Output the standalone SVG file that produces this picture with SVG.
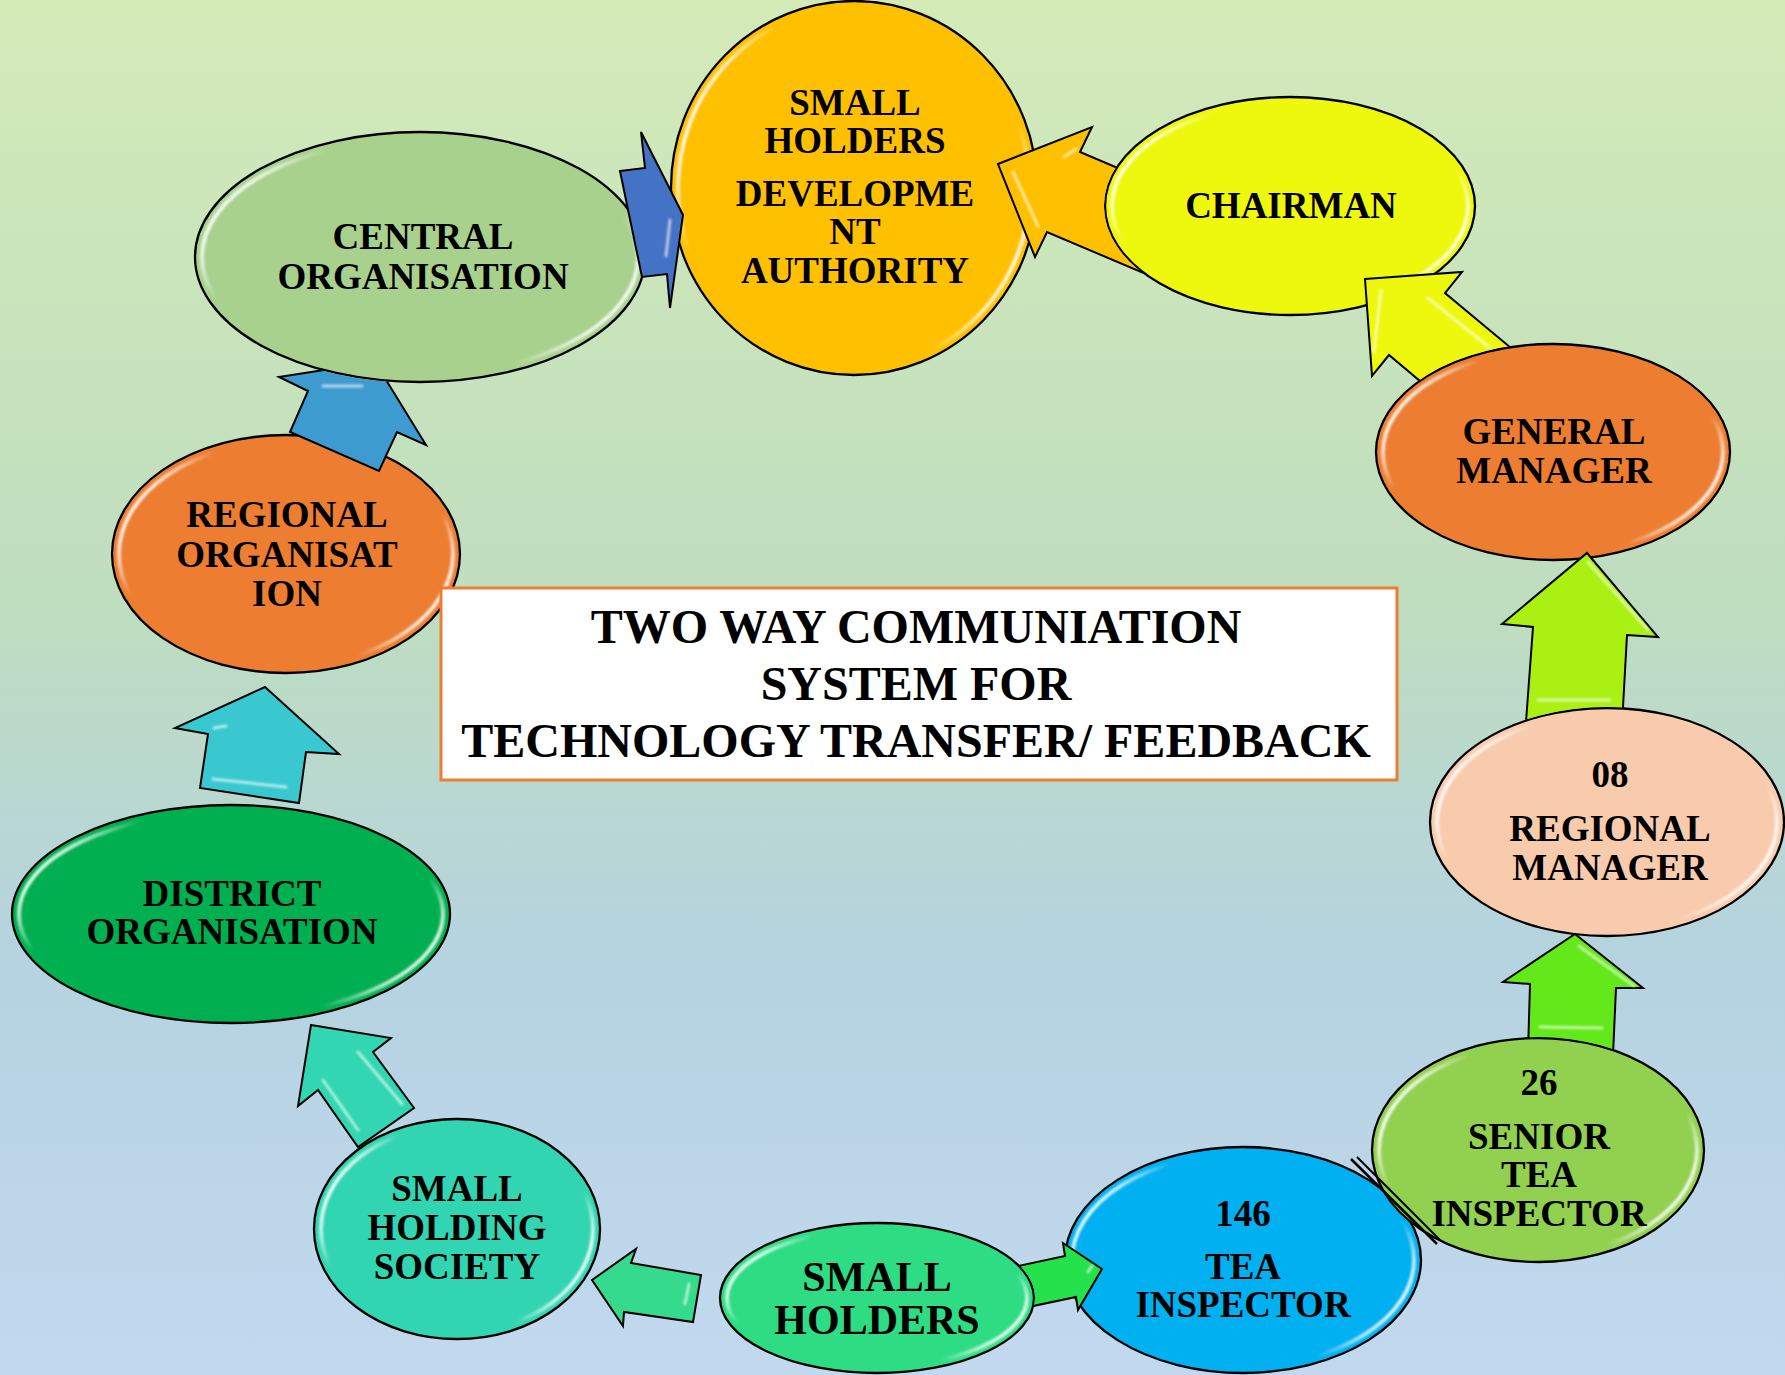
<svg xmlns="http://www.w3.org/2000/svg" width="1785" height="1375" viewBox="0 0 1785 1375">
<defs>
<linearGradient id="bg" x1="0" y1="0" x2="0" y2="1">
<stop offset="0" stop-color="#D4EBB8"/>
<stop offset="0.45" stop-color="#BEDDC0"/>
<stop offset="0.7" stop-color="#B5D3E0"/>
<stop offset="1" stop-color="#C2D8EF"/>
</linearGradient>
<linearGradient id="rim" x1="0" y1="0.3" x2="1" y2="0.7">
<stop offset="0" stop-color="#fff" stop-opacity="1"/>
<stop offset="0.07" stop-color="#fff" stop-opacity="0.7"/>
<stop offset="0.16" stop-color="#fff" stop-opacity="0"/>
<stop offset="0.84" stop-color="#fff" stop-opacity="0"/>
<stop offset="0.93" stop-color="#fff" stop-opacity="0.7"/>
<stop offset="1" stop-color="#fff" stop-opacity="1"/>
</linearGradient>
<filter id="soft" x="-5%" y="-5%" width="110%" height="110%">
<feGaussianBlur stdDeviation="0.8"/>
</filter>
<mask id="m1" maskUnits="userSpaceOnUse" x="0" y="0" width="1785" height="1375">
<rect x="0" y="0" width="1785" height="1375" fill="#fff"/>
<ellipse cx="1290" cy="206" rx="186" ry="110" fill="#000"/>
<ellipse cx="1607" cy="822" rx="178" ry="115" fill="#000"/>
<ellipse cx="877" cy="1298" rx="158" ry="76" fill="#000"/>
<ellipse cx="420" cy="257" rx="226" ry="126" fill="#000"/>
</mask>
<mask id="m2" maskUnits="userSpaceOnUse" x="0" y="0" width="1785" height="1375">
<rect x="0" y="0" width="1785" height="1375" fill="#fff"/>
<ellipse cx="1553" cy="452" rx="178" ry="109" fill="#000"/>
<ellipse cx="1538" cy="1150" rx="167" ry="113" fill="#000"/>
</mask>
</defs>
<style>
.node{stroke:#000;stroke-width:2.3}
.rim{fill:none;stroke:url(#rim);stroke-width:4;filter:url(#soft)}
.t{font-family:"Liberation Serif","Times New Roman",serif;font-weight:bold;font-size:37px;fill:#000;text-anchor:middle}
.big{font-size:42px}
.title{font-size:48px}
.arr{stroke:#000;stroke-width:2;stroke-linejoin:miter}
.hl{fill:none;stroke:#fff;stroke-opacity:0.6;stroke-width:3;stroke-linecap:round;filter:url(#soft)}
</style>
<rect x="0" y="0" width="1785" height="1375" fill="url(#bg)"/>

<g id="node-shda">
<ellipse class="node" cx="854" cy="188" rx="183" ry="187" fill="#FFC000"/>
<ellipse class="rim" cx="854" cy="188" rx="176" ry="180"/>
<text class="t" x="855" y="115">SMALL</text>
<text class="t" x="855" y="153">HOLDERS</text>
<text class="t" x="855" y="206">DEVELOPME</text>
<text class="t" x="855" y="244">NT</text>
<text class="t" x="855" y="283">AUTHORITY</text>
</g>
<g id="node-chairman">
<ellipse class="node" cx="1290" cy="206" rx="185" ry="109" fill="#EEF80C"/>
<ellipse class="rim" cx="1290" cy="206" rx="178" ry="102"/>
<text class="t" x="1291" y="218">CHAIRMAN</text>
</g>
<g id="node-central">
<ellipse class="node" cx="420" cy="257" rx="225" ry="125" fill="#A9D18E"/>
<ellipse class="rim" cx="420" cy="257" rx="218" ry="118"/>
<text class="t" x="423" y="249">CENTRAL</text>
<text class="t" x="423" y="289">ORGANISATION</text>
</g>
<g id="node-regional-org">
<ellipse class="node" cx="286" cy="554" rx="174" ry="119" fill="#ED7D31"/>
<ellipse class="rim" cx="286" cy="554" rx="167" ry="112"/>
<text class="t" x="287" y="527">REGIONAL</text>
<text class="t" x="287" y="567">ORGANISAT</text>
<text class="t" x="287" y="606">ION</text>
</g>
<g id="node-general-manager">
<ellipse class="node" cx="1553" cy="452" rx="177" ry="108" fill="#ED7D31"/>
<ellipse class="rim" cx="1553" cy="452" rx="170" ry="101"/>
<text class="t" x="1554" y="444">GENERAL</text>
<text class="t" x="1554" y="483">MANAGER</text>
</g>
<g id="node-regional-manager">
<ellipse class="node" cx="1607" cy="822" rx="177" ry="114" fill="#F8CBAD"/>
<ellipse class="rim" cx="1607" cy="822" rx="170" ry="107"/>
<text class="t" x="1610" y="787">08</text>
<text class="t" x="1610" y="841">REGIONAL</text>
<text class="t" x="1610" y="880">MANAGER</text>
</g>
<g id="node-district">
<ellipse class="node" cx="231" cy="914" rx="219" ry="109" fill="#00B050"/>
<ellipse class="rim" cx="231" cy="914" rx="212" ry="102"/>
<text class="t" x="232" y="906">DISTRICT</text>
<text class="t" x="232" y="944">ORGANISATION</text>
</g>
<g id="node-tea-inspector">
<ellipse class="node" cx="1243" cy="1260" rx="178" ry="113" fill="#00B0F0"/>
<ellipse class="rim" cx="1243" cy="1260" rx="171" ry="106"/>
<text class="t" x="1243" y="1226">146</text>
<text class="t" x="1243" y="1279">TEA</text>
<text class="t" x="1243" y="1317">INSPECTOR</text>
</g>
<g id="node-senior-tea-inspector">
<ellipse class="node" cx="1538" cy="1150" rx="166" ry="112" fill="#92D050"/>
<ellipse class="rim" cx="1538" cy="1150" rx="159" ry="105"/>
<text class="t" x="1539" y="1095">26</text>
<text class="t" x="1539" y="1149">SENIOR</text>
<text class="t" x="1539" y="1187">TEA</text>
<text class="t" x="1539" y="1226">INSPECTOR</text>
</g>
<g id="node-small-holding-society">
<ellipse class="node" cx="457" cy="1229" rx="143" ry="110" fill="#32D5B2"/>
<ellipse class="rim" cx="457" cy="1229" rx="136" ry="103"/>
<text class="t" x="457" y="1201">SMALL</text>
<text class="t" x="457" y="1240">HOLDING</text>
<text class="t" x="457" y="1279">SOCIETY</text>
</g>
<g id="node-small-holders">
<ellipse class="node" cx="877" cy="1298" rx="157" ry="75" fill="#2EDC84"/>
<ellipse class="rim" cx="877" cy="1298" rx="150" ry="68"/>
<text class="t big" x="877" y="1291">SMALL</text>
<text class="t big" x="877" y="1334">HOLDERS</text>
</g>

<g id="connectors">
<g mask="url(#m1)">
<polygon class="arr" fill="#FFC000" points="998,164 1092,127 1080,152 1200,203 1167,283 1047,232 1035,257"/>
<polygon class="arr" fill="#AAF012" points="1587,553 1658,637 1627,635 1622,725 1526,722 1533,627 1502,624"/>
<polygon class="arr" fill="#25E24C" points="1102,1269 1063,1243 1065,1256 948,1281 957,1322 1076,1297 1078,1310"/>
<polygon class="arr" fill="#3E9BD0" points="375,362 426,445 397,432 379,471 290,432 308,391 279,377"/>
<path class="hl" d="M1013 172 L1038 226 M1064 157 L1076 149 M1588 562 L1648 630 M1538 700 L1610 700 M1092 1266 L1088 1272 M323 386 L362 386"/>
</g>
<g mask="url(#m2)">
<polygon class="arr" fill="#EEF80C" points="1365,279 1462,272 1445,293 1553,383 1496,445 1389,355 1372,376"/>
<polygon class="arr" fill="#63E81A" points="1575,934 1643,988 1616,988 1613,1055 1528,1052 1530,984 1503,982"/>
<path class="hl" d="M1381 290 L1374 352 M1428 298 L1490 348 M1579 946 L1634 986 M1540 1027 L1602 1028"/>
</g>
<polygon class="arr" fill="#4472C4" points="620,171 645,168 641,132 683,215 670,308 667,274 642,277"/>
<polygon class="arr" fill="#35DA8C" points="592,1280 636,1249 631,1263 701,1275 693,1322 624,1312 623,1326"/>
<polygon class="arr" fill="#33D6B2" points="311,1025 391,1038 373,1052 414,1108 358,1147 318,1090 298,1106"/>
<polygon class="arr" fill="#3AC8D0" points="265,687 339,754 306,752 299,803 200,788 208,734 175,728"/>
<path class="hl" d="M670 220 L666 256 M689 1284 L685 1304 M358 1052 L402 1104 M323 1080 L358 1130 M213 779 L286 787 M214 728 L226 726"/>
<line x1="1351" y1="1159" x2="1437" y2="1244" stroke="#000" stroke-width="2.5"/>
<line x1="1357" y1="1157" x2="1440" y2="1240" stroke="#000" stroke-width="2"/>
</g>

<g id="title">
<rect x="441" y="588" width="956" height="192" fill="#fff" stroke="#ED7D31" stroke-width="3"/>
<text class="t title" x="916" y="643">TWO WAY COMMUNIATION</text>
<text class="t title" x="916" y="700">SYSTEM FOR</text>
<text class="t title" x="916" y="757">TECHNOLOGY TRANSFER/ FEEDBACK</text>
</g>
</svg>
